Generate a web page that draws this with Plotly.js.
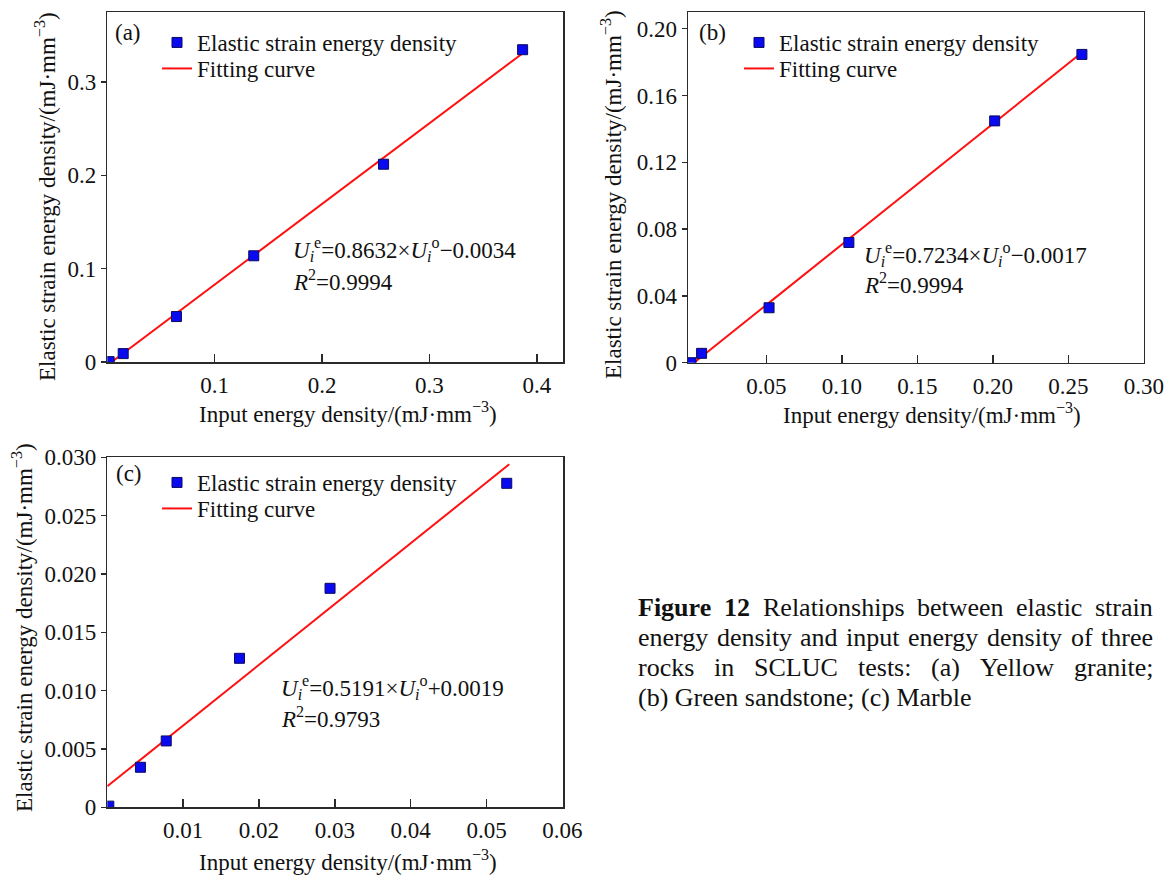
<!DOCTYPE html>
<html>
<head>
<meta charset="utf-8">
<script src="https://cdn.plot.ly/plotly-3.0.1.min.js"></script>
<style>
html,body{margin:0;padding:0;background:#fff;}
#chart{width:1170px;height:877px;}
</style>
</head>
<body>
<div id="chart"></div>
<script>
// ---------------- data ----------------
// (a) Yellow granite
const graniteInput   = [0.0017, 0.0148, 0.0644, 0.1364, 0.2573, 0.3868];
const graniteElastic = [0.0004, 0.0090, 0.0487, 0.1138, 0.2119, 0.3346];
const graniteFitX    = [0.004, 0.386];
const graniteFitY    = [0.000, 0.330];
const graniteXTicks  = [0.1, 0.2, 0.3, 0.4];
const graniteXLabels = ['0.1', '0.2', '0.3', '0.4'];
const graniteYTicks  = [0, 0.1, 0.2, 0.3];
const graniteYLabels = ['0', '0.1', '0.2', '0.3'];
const graniteEq      = ['<i>U</i><sub><i>i</i></sub><sup>e</sup>=0.8632×<i>U</i><sub><i>i</i></sub><sup>o</sup>−0.0034', '<i>R</i><sup>2</sup>=0.9994'];

// (b) Green sandstone
const sandstoneInput   = [0.0, 0.0070, 0.0517, 0.1046, 0.2012, 0.2590];
const sandstoneElastic = [0.0, 0.0056, 0.0329, 0.0720, 0.1448, 0.1846];
const sandstoneFitX    = [0.002, 0.259];
const sandstoneFitY    = [0.000, 0.1857];
const sandstoneXTicks  = [0.05, 0.10, 0.15, 0.20, 0.25, 0.30];
const sandstoneXLabels = ['0.05', '0.10', '0.15', '0.20', '0.25', '0.30'];
const sandstoneYTicks  = [0, 0.04, 0.08, 0.12, 0.16, 0.20];
const sandstoneYLabels = ['0', '0.04', '0.08', '0.12', '0.16', '0.20'];
const sandstoneEq      = ['<i>U</i><sub><i>i</i></sub><sup>e</sup>=0.7234×<i>U</i><sub><i>i</i></sub><sup>o</sup>−0.0017', '<i>R</i><sup>2</sup>=0.9994'];

// (c) Marble
const marbleInput   = [0.0002, 0.00437, 0.00777, 0.01743, 0.02937, 0.05267];
const marbleElastic = [0.0001, 0.00343, 0.00569, 0.01277, 0.01877, 0.02777];
const marbleFitX    = [0.000, 0.053];
const marbleFitY    = [0.0018, 0.0294];
const marbleXTicks  = [0.01, 0.02, 0.03, 0.04, 0.05, 0.06];
const marbleXLabels = ['0.01', '0.02', '0.03', '0.04', '0.05', '0.06'];
const marbleYTicks  = [0, 0.005, 0.010, 0.015, 0.020, 0.025, 0.030];
const marbleYLabels = ['0', '0.005', '0.010', '0.015', '0.020', '0.025', '0.030'];
const marbleEq      = ['<i>U</i><sub><i>i</i></sub><sup>e</sup>=0.5191×<i>U</i><sub><i>i</i></sub><sup>o</sup>+0.0019', '<i>R</i><sup>2</sup>=0.9793'];

const seriesNames = ['Elastic strain energy density', 'Fitting curve'];
const xTitle = 'Input energy density/(mJ·mm<sup>−3</sup>)';
const yTitle = 'Elastic strain energy density/(mJ·mm<sup>−3</sup>)';
const captionLines = [
  'Figure 12 Relationships between elastic strain',
  'energy density and input energy density of three',
  'rocks in SCLUC tests: (a) Yellow granite;',
  '(b) Green sandstone; (c) Marble'
];

// ---------------- styling / layout helpers ----------------
const W = 1170, H = 877;
const px = x => x / W;
const py = y => 1 - y / H;
const FONT = '"Liberation Serif", "Times New Roman", serif';
const INK = '#111';
const AX = '#2a2a2a';

function xAxis(domain, range, vals, labels, anchor) {
  return {domain, range, anchor, tickmode: 'array', tickvals: vals, ticktext: labels,
    ticks: 'inside', ticklen: 8, tickwidth: 1.5, tickcolor: AX,
    showline: true, linecolor: AX, linewidth: 1.5, mirror: true,
    showgrid: false, zeroline: false, ticklabelstandoff: 2,
    tickfont: {family: FONT, size: 23, color: INK}, fixedrange: true};
}
function yAxis(domain, range, vals, labels, anchor) {
  return {domain, range, anchor, tickmode: 'array', tickvals: vals, ticktext: labels,
    ticks: 'outside', ticklen: 5, tickwidth: 1.5, tickcolor: AX,
    showline: true, linecolor: AX, linewidth: 1.5, mirror: true,
    showgrid: false, zeroline: false,
    tickfont: {family: FONT, size: 23, color: INK}, fixedrange: true};
}

function panelTraces(xs, ys, fx, fy, xa, ya, legMarker, legLine) {
  return [
    {type: 'scatter', mode: 'lines', x: fx, y: fy, xaxis: xa, yaxis: ya, legend: legLine,
      name: seriesNames[1], line: {color: '#ff1010', width: 2}},
    {type: 'scatter', mode: 'markers', x: xs, y: ys, xaxis: xa, yaxis: ya, legend: legMarker,
      name: seriesNames[0],
      marker: {symbol: 'square', size: 10, color: '#0a0af0', line: {color: '#0a0a60', width: 1}}}
  ];
}

const traces = [].concat(
  panelTraces(graniteInput, graniteElastic, graniteFitX, graniteFitY, 'x', 'y', 'legend', 'legend2'),
  panelTraces(sandstoneInput, sandstoneElastic, sandstoneFitX, sandstoneFitY, 'x2', 'y2', 'legend3', 'legend4'),
  panelTraces(marbleInput, marbleElastic, marbleFitX, marbleFitY, 'x3', 'y3', 'legend5', 'legend6')
);

// one legend per row, so rows can sit as close as in the reference
function legendAt(x, y) {
  return {x: px(x), y: py(y), xanchor: 'left', yanchor: 'top', bgcolor: 'rgba(0,0,0,0)',
    borderwidth: 0, traceorder: 'normal',
    font: {family: FONT, size: 23, color: INK}};
}

function note(text, x, y, opts) {
  return Object.assign({xref: 'paper', yref: 'paper', x: px(x), y: py(y), text, showarrow: false,
    xanchor: 'left', yanchor: 'middle', font: {family: FONT, size: 23, color: INK}}, opts || {});
}

const annotations = [
  // panel letters
  note('(a)', 113, 32), note('(b)', 697, 32), note('(c)', 114, 474),
  // equations
  note(graniteEq[0], 291, 249), note(graniteEq[1], 291, 280),
  note(sandstoneEq[0], 862, 254), note(sandstoneEq[1], 862, 283),
  note(marbleEq[0], 279, 687), note(marbleEq[1], 279, 717),
  // axis titles
  note(yTitle, 45, 197, {xanchor: 'center', textangle: -90}),
  note(yTitle, 612, 195, {xanchor: 'center', textangle: -90}),
  note(yTitle, 22, 628, {xanchor: 'center', textangle: -90}),
  note(xTitle, 348, 412, {xanchor: 'center'}),
  note(xTitle, 932, 413, {xanchor: 'center'}),
  note(xTitle, 348, 860, {xanchor: 'center'})
];

// caption, justified between left and right edges
const capLeft = 637, capRight = 1152, capSize = 26;
const capY = [607, 637, 667, 697];
const ctx = document.createElement('canvas').getContext('2d');
function measure(t, bold) {
  ctx.font = (bold ? 'bold ' : '') + capSize + 'px "Liberation Serif"';
  return ctx.measureText(t).width;
}
captionLines.forEach((line, li) => {
  const words = line.split(' ');
  const bolds = words.map((w, i) => li === 0 && i < 2);
  if (li === captionLines.length - 1) {
    annotations.push(note(line, capLeft - 1, capY[li], {font: {family: FONT, size: capSize, color: INK}}));
    return;
  }
  const widths = words.map((w, i) => measure(w, bolds[i]));
  const total = widths.reduce((a, b) => a + b, 0);
  const gap = (capRight - capLeft - total) / (words.length - 1);
  let x = capLeft;
  words.forEach((w, i) => {
    annotations.push(note(bolds[i] ? '<b>' + w + '</b>' : w, x - 1, capY[li],
      {font: {family: FONT, size: capSize, color: INK}}));
    x += widths[i] + gap;
  });
});

const layout = {
  width: W, height: H,
  margin: {l: 0, r: 0, t: 0, b: 0},
  paper_bgcolor: '#fff', plot_bgcolor: '#fff',
  showlegend: true,
  xaxis:  xAxis([px(107.3), px(563.1)], [0, 0.4245], graniteXTicks, graniteXLabels, 'y'),
  yaxis:  yAxis([py(362), py(12)], [0, 0.375], graniteYTicks, graniteYLabels, 'x'),
  xaxis2: xAxis([px(688), px(1143.8)], [-0.002, 0.30], sandstoneXTicks, sandstoneXLabels, 'y2'),
  yaxis2: yAxis([py(362.7), py(12)], [0, 0.21], sandstoneYTicks, sandstoneYLabels, 'x2'),
  xaxis3: xAxis([px(107.3), px(563.1)], [0, 0.0601], marbleXTicks, marbleXLabels, 'y3'),
  yaxis3: yAxis([py(807.3), py(457.3)], [0, 0.030], marbleYTicks, marbleYLabels, 'x3'),
  legend:  legendAt(157, 21),
  legend2: legendAt(157, 47),
  legend3: legendAt(739, 21),
  legend4: legendAt(739, 47),
  legend5: legendAt(157, 461),
  legend6: legendAt(157, 487),
  annotations
};

Plotly.newPlot('chart', traces, layout, {displayModeBar: false, staticPlot: true});
</script>
</body>
</html>
